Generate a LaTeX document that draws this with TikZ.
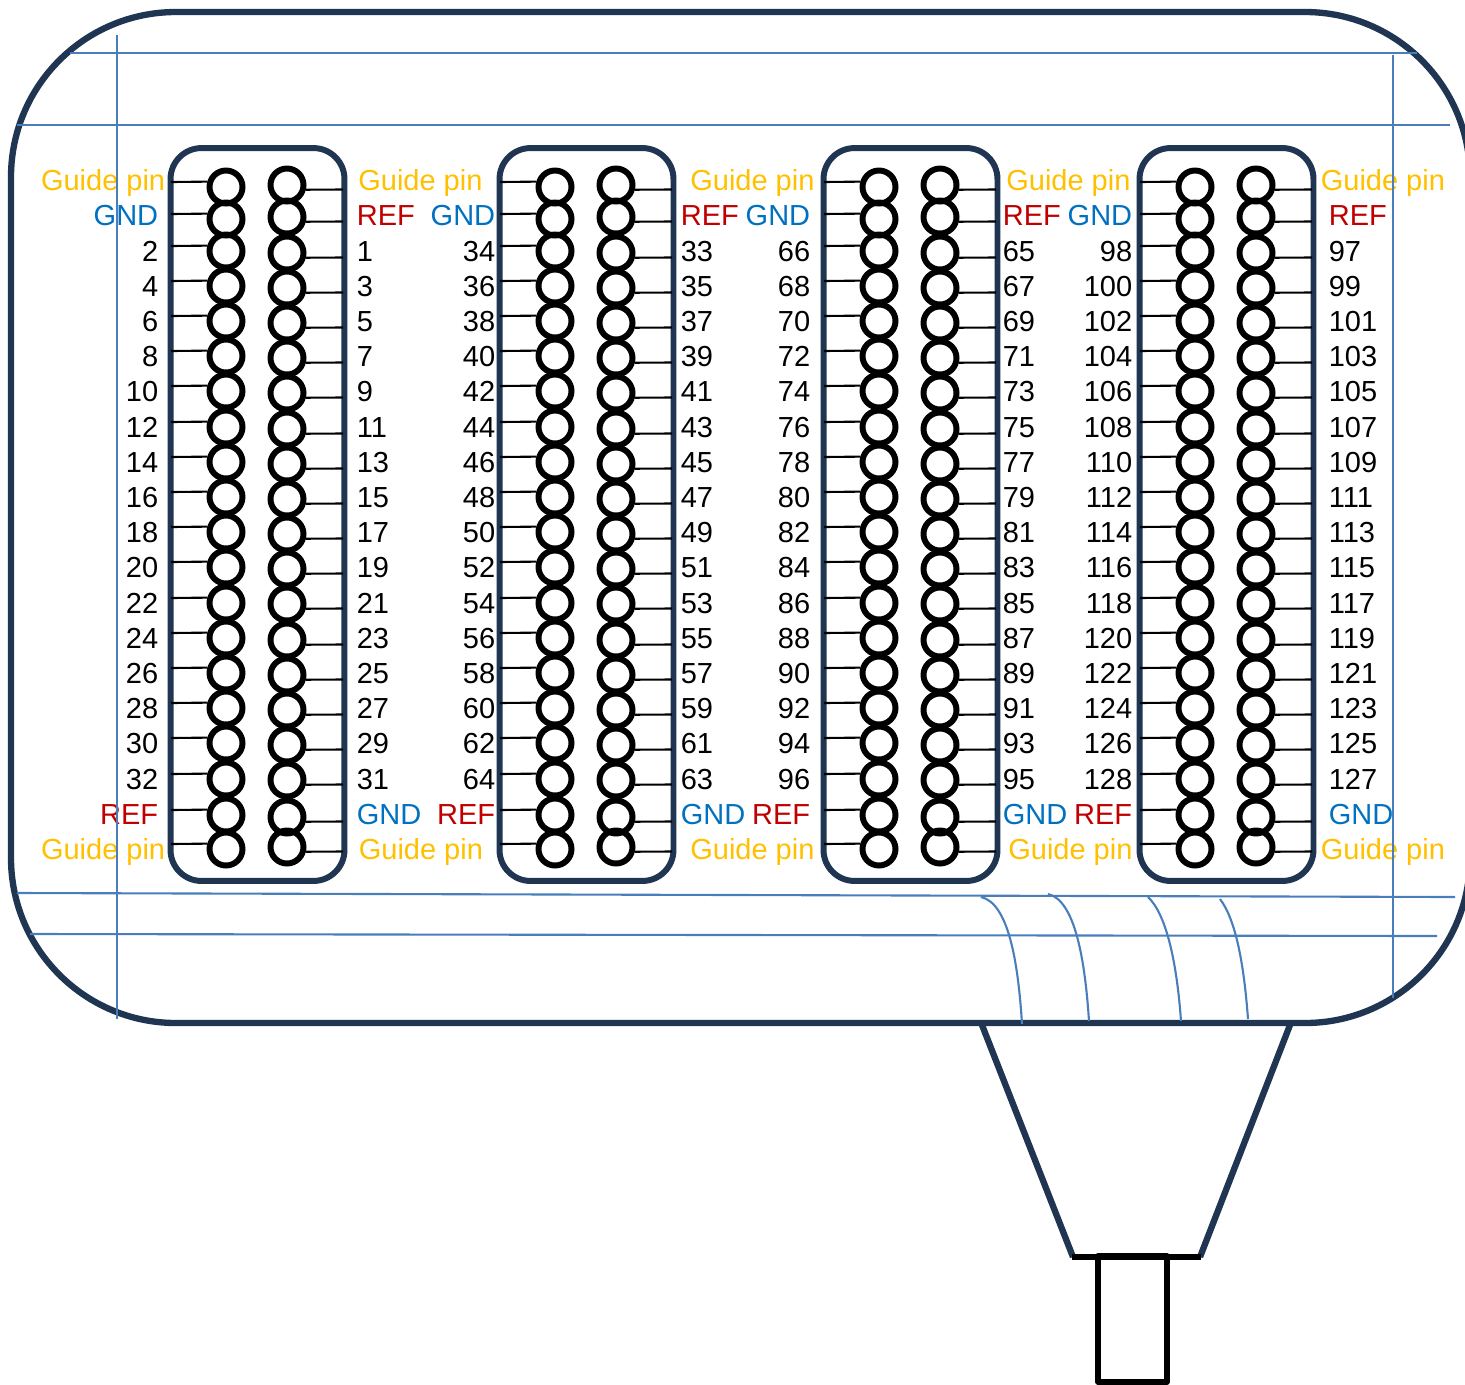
\documentclass[tikz,border=0pt]{standalone}
\usepackage{fontspec}
\setmainfont{Liberation Sans}
\definecolor{shellnavy}{HTML}{1F3552}
\definecolor{guideblue}{HTML}{4A7EBB}
\definecolor{gndblue}{HTML}{0070C0}
\definecolor{refred}{HTML}{C00000}
\definecolor{guideyellow}{HTML}{FFC000}
\tikzset{
    shell/.style={draw=shellnavy,line width=3.6pt,line join=round},
    connbox/.style={draw=shellnavy,line width=3.4pt,rounded corners=0.62cm,minimum width=3.48cm,minimum height=14.66cm,inner sep=0pt},
    pin/.style={circle,draw=black,line width=3.4pt,minimum size=0.66cm,inner sep=0pt},
    lead/.style={line width=1.2pt},
    guide/.style={draw=guideblue,line width=1.2pt},
    lab/.style={font=\fontsize{16.5pt}{18pt}\selectfont,inner sep=0pt},
    leftlab/.style={lab,anchor=base east},
    rightlab/.style={lab,anchor=base west},
}

\begin{document}
\begin{tikzpicture}[x=0.02cm,y=-0.02cm]
    \useasboundingbox (0,0) rectangle (1465,1384);
    \clip (0,0) rectangle (1465,1384);
    % outer shell and cable
    \draw[shell,rounded corners=3.3cm] (11,12) rectangle (1470,1023);
    \draw[shell] (982,1025)--(1073,1257);
    \draw[shell] (1200,1257)--(1290,1025);
    \draw[draw=black,line width=3pt] (1072,1257)--(1201,1257);
    \draw[draw=black,line width=3pt,line join=round] (1098,1256) rectangle (1167,1382);
    % the four connectors
    \foreach \b/\dx/\lx/\rx/\lbase/\rbase in {1/0/158.5/356.5/0/-1,2/329/495.5/680.5/32/31,3/653/810.5/1002.5/64/63,4/969/1132.5/1328.5/96/95}{
        \node[connbox] (box\b) at (257.5+\dx,514.5) {};
        \foreach \j/\y in {1/187,2/219,3/251,4/286,5/321,6/356,7/391,8/427,9/462,10/497,11/532,12/567,13/603,14/638,15/673,16/708,17/743,18/779,19/815,20/849}{
            \node[pin] (L\b-\j) at (226+\dx,\y) {};
            \coordinate (LE\b-\j) at (171+\dx,\y-5);
            \draw[lead] (LE\b-\j)--(L\b-\j.164.7);
        }
        \foreach \j/\y in {1/185,2/217,3/253,4/288,5/323,6/358,7/393,8/429,9/464,10/499,11/534,12/569,13/604,14/640,15/675,16/710,17/745,18/780,19/817,20/847}{
            \node[pin] (R\b-\j) at (287+\dx,\y) {};
            \coordinate (RE\b-\j) at (343+\dx,\y+4.5);
            \draw[lead] (R\b-\j.346.3)--(RE\b-\j);
        }
        % pin numbers
        \foreach \k/\y in {1/251,2/286,3/321,4/356,5/391,6/427,7/462,8/497,9/532,10/567,11/603,12/638,13/673,14/708,15/743,16/779}{
            \pgfmathtruncatemacro{\n}{\lbase+2*\k}
            \pgfmathtruncatemacro{\m}{\rbase+2*\k}
            \node[leftlab] (ln\n) at (\lx,\y+10) {\n};
            \node[rightlab] (rn\m) at (\rx,\y+10) {\m};
        }
        \node[leftlab,text=gndblue] (lgnd\b) at (\lx,225) {GND};
        \node[leftlab,text=refred] (lref\b) at (\lx,824) {REF};
        \node[rightlab,text=refred] (rref\b) at (\rx,225) {REF};
        \node[rightlab,text=gndblue] (rgnd\b) at (\rx,824) {GND};
    }
    % guide pin labels
    \foreach \x/\yy/\name in {165.5/190/a,165.5/859/b}{
        \node[leftlab,text=guideyellow] (gp\name) at (\x,\yy) {Guide pin};
    }
    \foreach \x/\yy/\name in {358/190/c,358.5/859/d,690/190/e,690/859/f,1006/190/g,1008/859/h,1320.5/190/i,1320.5/859/j}{
        \node[rightlab,text=guideyellow] (gp\name) at (\x,\yy) {Guide pin};
    }
    % thin blue lines
    \draw[guide] (70,53)--(1417,53);
    \draw[guide] (17,125)--(1450,125);
    \draw[guide] (117,35)--(117,1019);
    \draw[guide] (1393,55)--(1393,998);
    \draw[guide] (17,893)--(1455,897);
    \draw[guide] (30,934)--(1437,936);
    \draw[guide] (981,897) .. controls (1008,903) and (1018,960) .. (1022,1024);
    \draw[guide] (1048,894) .. controls (1075,900) and (1085,960) .. (1089,1021);
    \draw[guide] (1148,897) .. controls (1167,915) and (1177,965) .. (1181,1021);
    \draw[guide] (1220,899) .. controls (1236,920) and (1244,965) .. (1248,1019);
\end{tikzpicture}
\end{document}
